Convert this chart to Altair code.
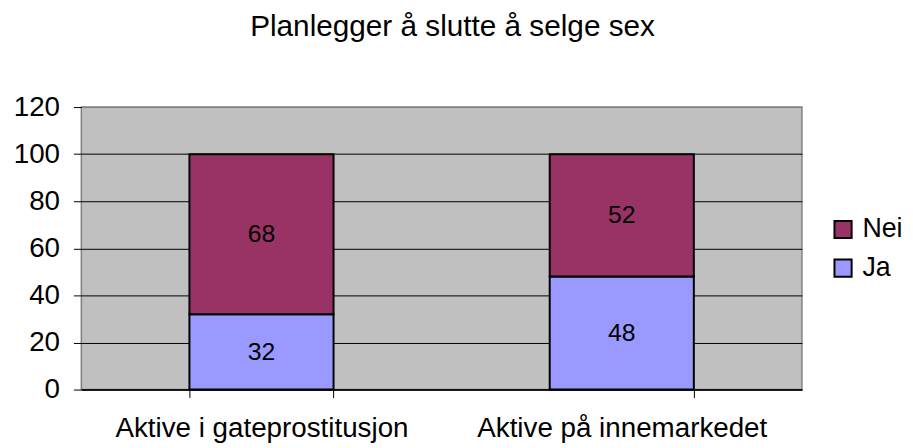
import altair as alt
import pandas as pd

categories = ["Aktive i gateprostitusjon", "Aktive på innemarkedet"]
series = ["Nei", "Ja"]
ja_values = [32, 48]
nei_values = [68, 52]
y_ticks = [0, 20, 40, 60, 80, 100, 120]
colors = ["#993366", "#9999FF"]

rows = []
for c, j, n in zip(categories, ja_values, nei_values):
    rows.append({"kategori": c, "svar": "Ja", "verdi": j, "rekkefolge": 0})
    rows.append({"kategori": c, "svar": "Nei", "verdi": n, "rekkefolge": 1})
df = pd.DataFrame(rows)

FONT = "Liberation Sans"

x_enc = alt.X(
    "kategori:N", title=None, sort=categories,
    scale=alt.Scale(paddingInner=0.6, paddingOuter=0.3),
    axis=alt.Axis(labelAngle=0, labelFontSize=28, labelFont=FONT, labelColor="black",
                  labelLimit=600,
                  tickBand="extent", tickSize=8, tickColor="black", tickWidth=1,
                  domainColor="black", domainWidth=1.5, labelPadding=39,
                  labelBaseline="alphabetic", grid=False),
)

color_enc = alt.Color(
    "svar:N", sort=series,
    scale=alt.Scale(domain=series, range=colors),
    legend=alt.Legend(title=None, orient="none", legendX=755, legendY=110,
                      symbolType="square", symbolSize=300, symbolStrokeColor="black",
                      symbolStrokeWidth=2, symbolOpacity=1, labelFontSize=27, labelFont=FONT,
                      labelColor="black", rowPadding=11, labelOffset=6, labelLimit=200),
)

bars = alt.Chart(df).mark_bar(stroke="black", strokeWidth=2).encode(
    x=x_enc,
    y=alt.Y("verdi:Q", stack="zero", title=None,
            scale=alt.Scale(domain=[0, 120], nice=False),
            axis=alt.Axis(values=y_ticks, grid=True,
                          gridColor={"condition": {"test": "datum.value == 120", "value": "#808080"},
                                     "value": "black"},
                          gridOpacity=1,
                          gridWidth=1, tickSize=8, tickColor="black", domain=False,
                          labelFontSize=28, labelFont=FONT, labelColor="black",
                          labelPadding=14)),
    color=color_enc,
    order=alt.Order("rekkefolge:Q"),
)

texts = alt.Chart(df).transform_stack(
    stack="verdi", groupby=["kategori"], as_=["y0", "y1"],
    sort=[alt.SortField("rekkefolge", order="ascending")],
).transform_calculate(
    mid="(datum.y0 + datum.y1) / 2"
).mark_text(fontSize=25, font=FONT, color="black").encode(
    x=alt.X("kategori:N", sort=categories),
    y=alt.Y("mid:Q"),
    text=alt.Text("verdi:Q"),
)

chart = alt.layer(bars, texts).properties(
    width=727, height=285,
    background="white",
    title=alt.Title("Planlegger å slutte å selge sex", fontSize=30, font=FONT,
                    fontWeight="normal", color="black", frame="group", anchor="middle",
                    baseline="alphabetic", offset=28, dx=11),
    autosize=alt.AutoSizeParams(type="none"),
    padding={"left": 74, "top": 98, "right": 104, "bottom": 57},
).configure_view(fill="#C0C0C0", stroke="#808080", strokeWidth=1.5)

chart.save("out.html", embed_options={"renderer": "svg", "actions": False})
